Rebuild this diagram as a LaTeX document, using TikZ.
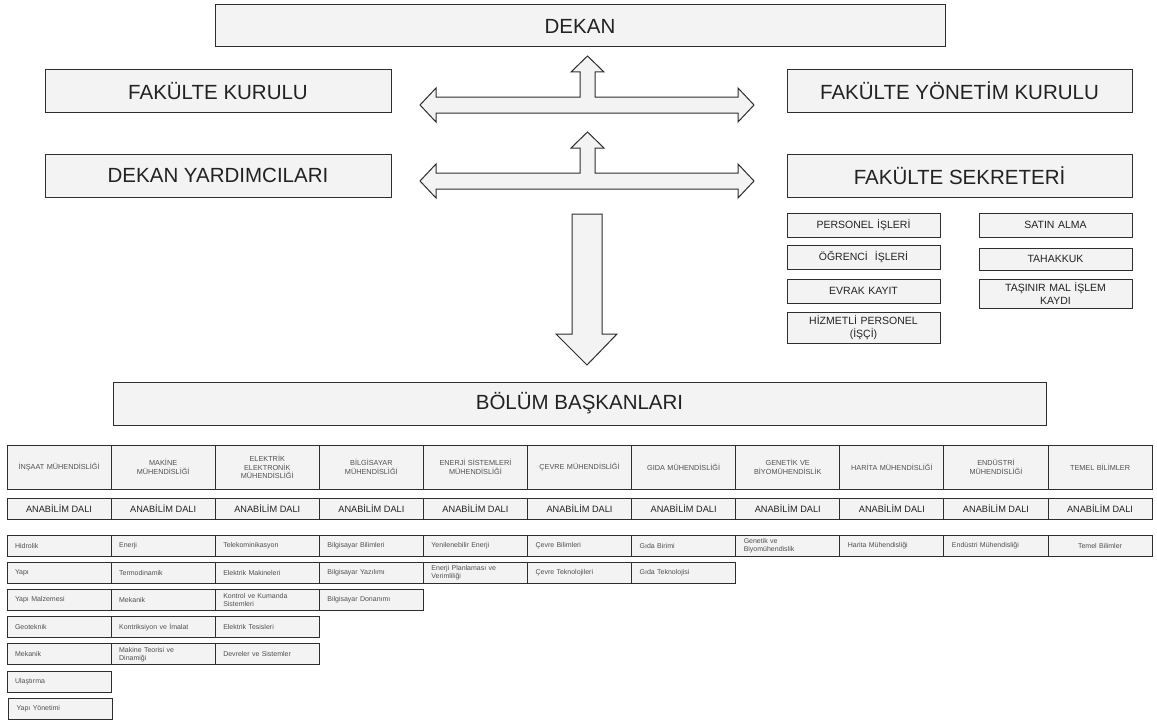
\documentclass[tikz,border=0pt]{standalone}
\usepackage{fontspec}
\setmainfont{Liberation Sans}
\usepackage{tikz}
\usetikzlibrary{positioning}
\definecolor{color_box}{HTML}{F3F3F3}
\definecolor{color_line}{HTML}{2E2E2E}
\definecolor{color_text}{HTML}{222222}
\definecolor{color_small}{HTML}{505050}

\begin{document}
\begin{tikzpicture}[x=1pt, y=-1pt]
  \tikzset{ % box styles
      base/.style = {rectangle, draw=color_line, fill=color_box, line width=1pt, inner sep=0pt, outer sep=0pt, text centered, text=color_text},
      head/.style = {base, font=\fontsize{20.5}{24}\selectfont},
      office/.style = {base, minimum width=153pt, minimum height=24pt, text width=145pt, align=center, font=\fontsize{10.5}{12.5}\selectfont},
      dept/.style = {base, minimum width=104.1pt, minimum height=44pt, text width=96pt, align=center, text=color_small, font=\fontsize{7.3}{8.8}\selectfont},
      branch/.style = {base, minimum width=104.1pt, minimum height=21pt, font=\fontsize{9.2}{11}\selectfont},
      unit/.style = {base, minimum width=104.1pt, minimum height=21pt, text width=88pt, align=left, text=color_small, font=\fontsize{7}{7.8}\selectfont},
      blockarrow/.style = {draw=color_line, fill=color_box, line width=1pt, line join=miter},
  }
  \useasboundingbox (0,0) rectangle (1157,725);

  % management
  \node (dekan) [head, minimum width=730pt, minimum height=42pt] at (580,26) {DEKAN};
  \node (fk) [head, minimum width=346pt, minimum height=42pt] at (218,91) {FAKÜLTE KURULU};
  \node (fyk) [head, minimum width=345pt, minimum height=42pt] at (959.5,91) {FAKÜLTE YÖNETİM KURULU};
  \node (dy) [head, minimum width=346pt, minimum height=43pt] at (218,175.5) {DEKAN YARDIMCILARI};
  \node (fs) [head, minimum width=345pt, minimum height=43pt] at (959.5,175.5) {FAKÜLTE SEKRETERİ};

  % secretary offices
  \node (personel) [office, below=16pt of fs.south west, anchor=north west] {PERSONEL İŞLERİ};
  \node (ogrenci) [office, below=8pt of personel] {ÖĞRENCİ~ İŞLERİ};
  \node (evrak) [office, below=10pt of ogrenci] {EVRAK KAYIT};
  \node (hizmetli) [office, below=9pt of evrak, minimum height=31pt] {HİZMETLİ PERSONEL\\(İŞÇİ)};
  \node (satin) [office, below=16pt of fs.south east, anchor=north east] {SATIN ALMA};
  \node (tahakkuk) [office, below=11pt of satin, minimum height=22pt] {TAHAKKUK};
  \node (tasinir) [office, below=9pt of tahakkuk, minimum height=29pt] {TAŞINIR MAL İŞLEM\\KAYDI};

  % block arrows
  \draw[blockarrow] (420,105) -- (436,88) -- (436,97) -- (580,97) -- (580,72) -- (571,72) -- (587.5,56)
    -- (604,72) -- (595,72) -- (595,97) -- (738,97) -- (738,88) -- (754,105) -- (738,122) -- (738,113)
    -- (436,113) -- (436,122) -- cycle;
  \draw[blockarrow] (420,181) -- (436,164) -- (436,173) -- (580,173) -- (580,148) -- (571,148) -- (587.5,132)
    -- (604,148) -- (595,148) -- (595,173) -- (738,173) -- (738,164) -- (754,181) -- (738,198) -- (738,189)
    -- (436,189) -- (436,198) -- cycle;
  \draw[blockarrow] (572,214) -- (602,214) -- (602,334) -- (617,334) -- (587,365) -- (556,334) -- (572,334) -- cycle;

  \node (bolum) [head, minimum width=933pt, minimum height=43pt] at (579.5,403.5) {BÖLÜM BAŞKANLARI};

  % departments
  \node (inshaat) [dept] at (59.05,467) {İNŞAAT MÜHENDİSLİĞİ};
  \node (makine) [dept, right=0pt of inshaat] {MAKİNE\\MÜHENDİSLİĞİ};
  \node (elektrik) [dept, right=0pt of makine] {ELEKTRİK\\ELEKTRONİK\\MÜHENDİSLİĞİ};
  \node (bilgisayar) [dept, right=0pt of elektrik] {BİLGİSAYAR\\MÜHENDİSLİĞİ};
  \node (enerji) [dept, right=0pt of bilgisayar] {ENERJİ SİSTEMLERİ\\MÜHENDİSLİĞİ};
  \node (cevre) [dept, right=0pt of enerji] {ÇEVRE MÜHENDİSLİĞİ};
  \node (gida) [dept, right=0pt of cevre] {GIDA MÜHENDİSLİĞİ};
  \node (genetik) [dept, right=0pt of gida] {GENETİK VE\\BİYOMÜHENDİSLİK};
  \node (harita) [dept, right=0pt of genetik] {HARİTA MÜHENDİSLİĞİ};
  \node (endustri) [dept, right=0pt of harita] {ENDÜSTRİ\\MÜHENDİSLİĞİ};
  \node (temel) [dept, right=0pt of endustri] {TEMEL BİLİMLER};

  \node (inshaat_ad) [branch, below=9pt of inshaat] {ANABİLİM DALI};
  \node (makine_ad) [branch, below=9pt of makine] {ANABİLİM DALI};
  \node (elektrik_ad) [branch, below=9pt of elektrik] {ANABİLİM DALI};
  \node (bilgisayar_ad) [branch, below=9pt of bilgisayar] {ANABİLİM DALI};
  \node (enerji_ad) [branch, below=9pt of enerji] {ANABİLİM DALI};
  \node (cevre_ad) [branch, below=9pt of cevre] {ANABİLİM DALI};
  \node (gida_ad) [branch, below=9pt of gida] {ANABİLİM DALI};
  \node (genetik_ad) [branch, below=9pt of genetik] {ANABİLİM DALI};
  \node (harita_ad) [branch, below=9pt of harita] {ANABİLİM DALI};
  \node (endustri_ad) [branch, below=9pt of endustri] {ANABİLİM DALI};
  \node (temel_ad) [branch, below=9pt of temel] {ANABİLİM DALI};

  % branches
  \node (hidrolik) [unit, below=16pt of inshaat_ad] {Hidrolik};
  \node (yapi) [unit, below=6.2pt of hidrolik] {Yapı};
  \node (yapimalz) [unit, below=6.2pt of yapi] {Yapı Malzemesi};
  \node (geoteknik) [unit, below=6.2pt of yapimalz] {Geoteknik};
  \node (insmekanik) [unit, below=6.2pt of geoteknik] {Mekanik};
  \node (ulastirma) [unit, below=6.2pt of insmekanik] {Ulaştırma};
  \node (yapiyon) [unit, below=6.2pt of ulastirma, xshift=1.5pt] {Yapı Yönetimi};

  \node (enerjim) [unit, below=16pt of makine_ad] {Enerji};
  \node (termo) [unit, below=6.2pt of enerjim] {Termodinamik};
  \node (mekanik) [unit, below=6.2pt of termo] {Mekanik};
  \node (imalat) [unit, below=6.2pt of mekanik] {Kontriksiyon ve İmalat};
  \node (teori) [unit, below=6.2pt of imalat] {Makine Teorisi ve\\Dinamiği};

  \node (telekom) [unit, below=16pt of elektrik_ad] {Telekominikasyon};
  \node (elmak) [unit, below=6.2pt of telekom] {Elektrik Makineleri};
  \node (kontrol) [unit, below=6.2pt of elmak] {Kontrol ve Kumanda\\Sistemleri};
  \node (tesis) [unit, below=6.2pt of kontrol] {Elektrik Tesisleri};
  \node (devre) [unit, below=6.2pt of tesis] {Devreler ve Sistemler};

  \node (bilbil) [unit, below=16pt of bilgisayar_ad] {Bilgisayar Bilimleri};
  \node (yazilim) [unit, below=6.2pt of bilbil] {Bilgisayar Yazılımı};
  \node (donanim) [unit, below=6.2pt of yazilim] {Bilgisayar Donanımı};

  \node (yenilenebilir) [unit, below=16pt of enerji_ad] {Yenilenebilir Enerji};
  \node (planlama) [unit, below=6.2pt of yenilenebilir] {Enerji Planlaması ve\\Verimliliği};

  \node (cevrebil) [unit, below=16pt of cevre_ad] {Çevre Bilimleri};
  \node (cevretek) [unit, below=6.2pt of cevrebil] {Çevre Teknolojileri};

  \node (gidabir) [unit, below=16pt of gida_ad] {Gıda Birimi};
  \node (gidatek) [unit, below=6.2pt of gidabir] {Gıda Teknolojisi};

  \node (genbiyo) [unit, below=16pt of genetik_ad] {Genetik ve\\Biyomühendislik};
  \node (haritamuh) [unit, below=16pt of harita_ad] {Harita Mühendisliği};
  \node (endmuh) [unit, below=16pt of endustri_ad] {Endüstri Mühendisliği};
  \node (temelbil) [unit, below=16pt of temel_ad, align=center] {Temel Bilimler};
\end{tikzpicture}
\end{document}
